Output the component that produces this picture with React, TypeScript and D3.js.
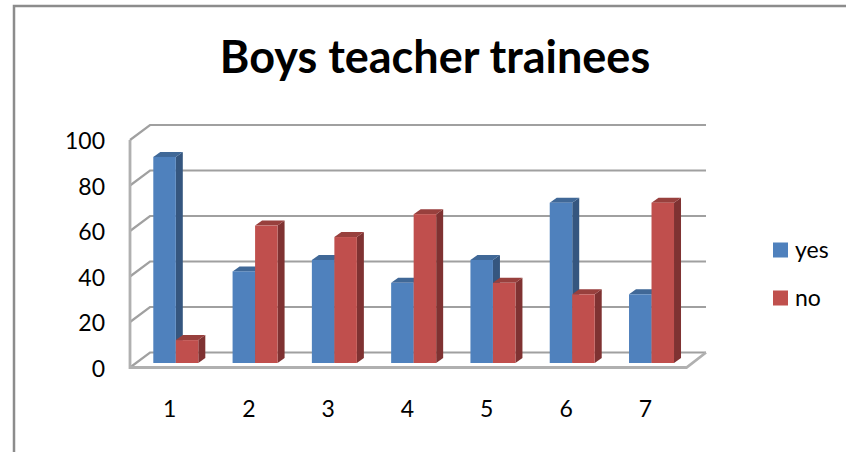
import { useEffect, useRef } from 'react';
import * as d3 from 'd3';

const categories = ['1', '2', '3', '4', '5', '6', '7'];
const seriesNames = ['yes', 'no'];
const yesValues = [90, 40, 45, 35, 45, 70, 30];
const noValues = [10, 60, 55, 65, 35, 30, 70];
const yTicks = [0, 20, 40, 60, 80, 100];
const title = 'Boys teacher trainees';

const width = 846;
const height = 452;
const fontFamily = 'Lato, "Open Sans", sans-serif';

const colors: Record<string, { front: string; side: string; top: string }> = {
  yes: { front: '#4f81bd', side: '#35577f', top: '#3f6797' },
  no: { front: '#c0504d', side: '#7f3331', top: '#983f3d' },
};

export default function App() {
  const svgRef = useRef<SVGSVGElement>(null);

  useEffect(() => {
    if (!svgRef.current) return;
    const svg = d3.select(svgRef.current);
    svg.selectAll('*').remove();

    // soft edges, the source picture is a scaled up screenshot
    svg.append('defs')
      .append('filter')
      .attr('id', 'soft')
      .append('feGaussianBlur')
      .attr('stdDeviation', 0.6);

    const root = svg.append('g').attr('filter', 'url(#soft)');

    // Outer chart frame
    root.append('path')
      .attr('d', `M14,${height} V6 H${width}`)
      .attr('fill', 'none')
      .attr('stroke', '#8c8c8c')
      .attr('stroke-width', 2.5);

    // Scales: front plane of the axis box, back wall, and the bars in between
    const depthX = 20;
    const depthY = -15;
    const frontY = d3.scaleLinear().domain([0, 100]).range([367.5, 140]);
    const wallY = (v: number) => frontY(v) + depthY;
    const barY = d3.scaleLinear().domain([0, 100]).range([363, 134]);

    const x = d3.scaleBand<string>().domain(categories).range([130, 685]);
    const inner = d3.scaleBand<string>().domain(seriesNames).range([0, 45]);
    const barOffset = 23.3;

    // Gridlines and wall ticks
    const grid = root.append('g').attr('fill', 'none');
    yTicks.forEach(t => {
      grid.append('path')
        .attr('d', `M${130},${frontY(t)} L${130 + depthX},${wallY(t)} H${706}`)
        .attr('stroke', '#a0a0a0')
        .attr('stroke-width', 2.2);
    });

    // Floor and left edge
    grid.append('path')
      .attr('d', `M130,${frontY(100)} V${frontY(0)} H686.5 L706,${wallY(0)}`)
      .attr('stroke', '#b0b0b0')
      .attr('stroke-width', 2.8);

    // Bars
    const barDepthX = 7;
    const barDepthY = -5;
    categories.forEach((cat, i) => {
      const left = (x(cat) ?? 0) + barOffset;
      seriesNames.forEach(name => {
        const value = name === 'yes' ? yesValues[i] : noValues[i];
        const c = colors[name];
        const x0 = left + (inner(name) ?? 0);
        const x1 = x0 + inner.bandwidth();
        const y0 = barY(value);
        const y1 = barY(0);
        const g = root.append('g');
        g.append('path')
          .attr('d', `M${x1},${y0} l${barDepthX},${barDepthY} V${y1 + barDepthY} L${x1},${y1} Z`)
          .attr('fill', c.side);
        g.append('path')
          .attr('d', `M${x0},${y0} l${barDepthX},${barDepthY} H${x1 + barDepthX} L${x1},${y0} Z`)
          .attr('fill', c.top);
        g.append('rect')
          .attr('x', x0)
          .attr('y', y0)
          .attr('width', inner.bandwidth())
          .attr('height', y1 - y0)
          .attr('fill', c.front);
      });
    });

    // Title
    svg.append('text')
      .attr('x', 435)
      .attr('y', 73)
      .attr('text-anchor', 'middle')
      .attr('font-family', fontFamily)
      .attr('font-size', 45)
      .attr('font-weight', 700)
      .attr('fill', '#000')
      .text(title);

    // Y axis
    const yAxis = svg.append('g')
      .attr('transform', 'translate(105,1.5)')
      .call(d3.axisLeft(frontY).tickValues(yTicks).tickSize(0).tickPadding(0));
    yAxis.select('.domain').remove();
    yAxis.selectAll('text')
      .attr('font-family', fontFamily)
      .attr('font-size', 23)
      .attr('fill', '#000');

    // X axis
    const xAxis = svg.append('g')
      .attr('transform', 'translate(0,401)')
      .call(d3.axisBottom(x).tickSize(0).tickPadding(0));
    xAxis.select('.domain').remove();
    xAxis.selectAll('text')
      .attr('font-family', fontFamily)
      .attr('font-size', 23)
      .attr('fill', '#000');

    // Legend
    const legendY = d3.scalePoint<string>().domain(seriesNames).range([250, 298]);
    seriesNames.forEach(name => {
      const cy = legendY(name) ?? 0;
      svg.append('rect')
        .attr('x', 773)
        .attr('y', cy - 7.5)
        .attr('width', 15)
        .attr('height', 15)
        .attr('fill', colors[name].front);
      svg.append('text')
        .attr('x', 795)
        .attr('y', cy + 7.5)
        .attr('font-family', fontFamily)
        .attr('font-size', 23)
        .attr('fill', '#000')
        .text(name);
    });
  }, []);

  return (
    <svg
      ref={svgRef}
      width={width}
      height={height}
      style={{ position: 'absolute', left: 0, top: 0, background: '#fff' }}
    />
  );
}
